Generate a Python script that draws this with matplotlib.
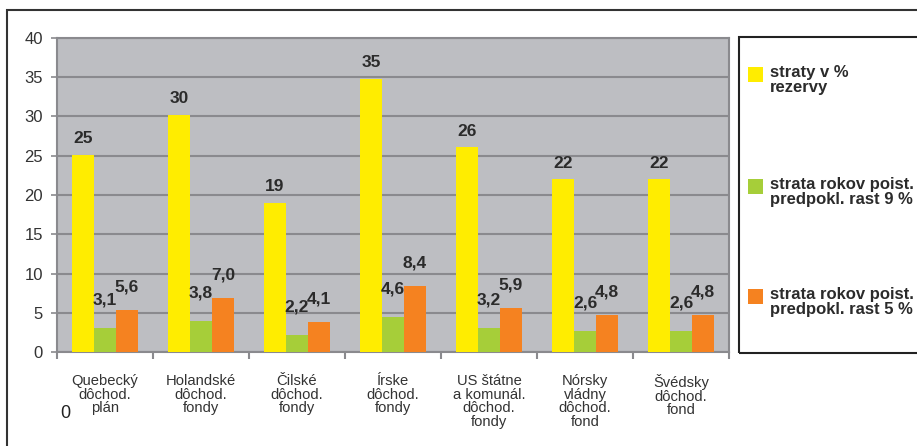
import matplotlib
matplotlib.use("Agg")
import matplotlib.pyplot as plt
from matplotlib.patches import Rectangle
import numpy as np

plt.rcParams['font.family'] = ['Liberation Sans', 'DejaVu Sans']

categories = ["Quebecký\ndôchod.\nplán", "Holandské\ndôchod.\nfondy", "Čilské\ndôchod.\nfondy",
              "Írske\ndôchod.\nfondy", "US štátne\na komunál.\ndôchod.\nfondy",
              "Nórsky\nvládny\ndôchod.\nfond", "Švédsky\ndôchod.\nfond"]
series_names = ["straty v %\nrezervy", "strata rokov poist.\npredpokl. rast 9 %",
                "strata rokov poist.\npredpokl. rast 5 %"]
straty = [25.1, 30.2, 19.0, 34.8, 26.1, 22.0, 22.0]
rast9 = [3.1, 3.9, 2.2, 4.5, 3.1, 2.7, 2.7]
rast5 = [5.35, 6.9, 3.8, 8.4, 5.6, 4.7, 4.7]
straty_lbl = ["25", "30", "19", "35", "26", "22", "22"]
rast9_lbl = ["3,1", "3,8", "2,2", "4,6", "3,2", "2,6", "2,6"]
rast5_lbl = ["5,6", "7,0", "4,1", "8,4", "5,9", "4,8", "4,8"]
yticks = [0, 5, 10, 15, 20, 25, 30, 35, 40]

colors = ["#FFED00", "#A6CE39", "#F58220"]
W, H = 917, 446
fig = plt.figure(figsize=(W / 100, H / 100), dpi=100)
ax = fig.add_axes([57 / W, 1 - 352 / H, (729 - 57) / W, (352 - 38) / H])
ax.set_facecolor("#BDBEC2")

x = np.arange(len(categories))
w = 0.229
datasets = [(straty, straty_lbl, 16), (rast9, rast9_lbl, 28), (rast5, rast5_lbl, 23)]
for k, (vals, lbls, off) in enumerate(datasets):
    xs = x + (k - 1) * w
    ax.bar(xs, vals, width=w, color=colors[k], zorder=3, linewidth=0)
    for xi, v, t in zip(xs, vals, lbls):
        ax.annotate(t, (xi, v), xytext=(0, off * 0.72), textcoords="offset points",
                    ha="center", va="center", fontsize=12.5, fontweight="bold",
                    color="#2b2b2b", zorder=5)

ax.set_xlim(-0.5, len(categories) - 0.5)
ax.set_ylim(0, 40)
ax.set_yticks(yticks)
ax.yaxis.grid(True, color="#8A8A8E", linewidth=1.5, zorder=1)
ax.set_axisbelow(True)
ax.tick_params(axis="y", labelsize=12, labelcolor="#333333", color="#8A8A8E",
               length=4, width=1.2, pad=6)

ax.set_xticks(x)
ax.set_xticklabels(categories, fontsize=10.6, color="#333333", linespacing=0.95)
ax.tick_params(axis="x", which="major", length=0, pad=16)
ax.set_xticks(np.arange(-0.5, len(categories)), minor=True)
ax.tick_params(axis="x", which="minor", length=5, width=1.5, color="#8A8A8E", direction="out")
for s in ax.spines.values():
    s.set_color("#8A8A8E")
    s.set_linewidth(1.5)

# outer border
fig.patches.append(Rectangle((7 / W, -0.1), 1.2, 1 - 10 / H + 0.1, transform=fig.transFigure,
                             fill=False, edgecolor="#333333", linewidth=1.5))
# legend box
fig.patches.append(Rectangle((739 / W, 1 - 353 / H), 0.5, (353 - 37) / H, transform=fig.transFigure,
                             fill=False, edgecolor="#222222", linewidth=1.5))
leg_y = [74, 186, 296]
for k, name in enumerate(series_names):
    yc = leg_y[k]
    fig.patches.append(Rectangle((748 / W, 1 - (yc + 7.5) / H), 15 / W, 15 / H,
                                 transform=fig.transFigure, facecolor=colors[k], edgecolor="none"))
    fig.text(770 / W, 1 - (yc - 9) / H, name, ha="left", va="top", fontsize=12,
             fontweight="bold", color="#2b2b2b", linespacing=0.98)

fig.text(65 / W, 1 - 413 / H, "0", ha="center", va="center", fontsize=13, color="#222222")

fig.savefig("out.png", dpi=100)
